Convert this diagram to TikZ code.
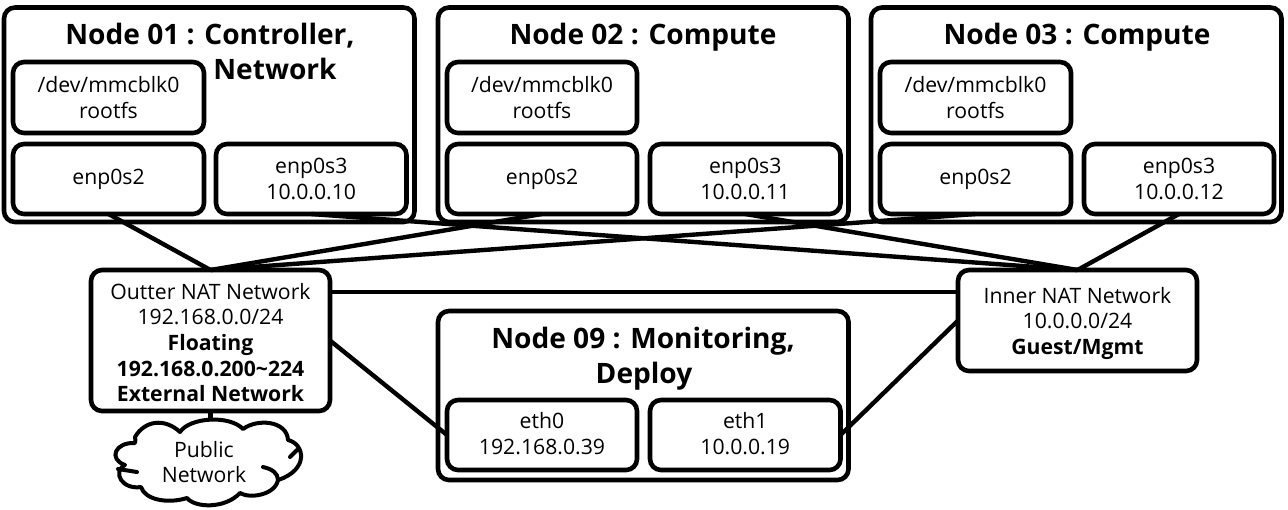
\documentclass[tikz,border=0pt]{standalone}
\usepackage{fontspec}
\setmainfont{Open Sans}
\usetikzlibrary{calc}
\tikzset{
  frame/.style={draw=black,line width=4.6pt,rounded corners=11pt,outer sep=0pt,inner sep=0pt,align=center,
    font=\fontsize{21.2}{25.7}\selectfont},
  title/.style={inner sep=0pt,anchor=base,font=\fontsize{28.1}{32}\selectfont\bfseries},
  link/.style={draw=black,line width=4.4pt},
  cloudline/.style={draw=black,line width=4pt,line cap=round,line join=round}
}
\newcommand{\bx}[6]{\node[frame,minimum width=#4pt-#2pt,minimum height=#5pt-#3pt] (#1) at ({(#2+#4)/2},{(#3+#5)/2}) {#6};}
\begin{document}
\begin{tikzpicture}[x=1pt,y=-1pt]
\useasboundingbox (0,0) rectangle (1288,509);
% Node 01
\bx{nA}{4}{7.5}{414.5}{222}{}
\node[title] (tA) at (210,44) {Node 01 : Controller,};
\node[title] (tAb) at (275,79) {Network};
\bx{rA}{13}{62}{204}{133}{/dev/mmcblk0\\rootfs}
\bx{aA}{13}{144}{204}{214}{enp0s2}
\bx{bA}{216}{144}{406.5}{214}{enp0s3\\10.0.0.10}
% Node 02
\bx{nB}{438}{7.5}{848.5}{222}{}
\node[title] (tB) at (643,44) {Node 02 : Compute};
\bx{rB}{447}{62}{637}{133}{/dev/mmcblk0\\rootfs}
\bx{aB}{447}{144}{637}{214}{enp0s2}
\bx{bB}{650}{144}{840.5}{214}{enp0s3\\10.0.0.11}
% Node 03
\bx{nC}{871}{7.5}{1281.5}{222}{}
\node[title] (tC) at (1077,44) {Node 03 : Compute};
\bx{rC}{880}{62}{1071}{133}{/dev/mmcblk0\\rootfs}
\bx{aC}{880}{144}{1071}{214}{enp0s2}
\bx{bC}{1084}{144}{1274}{214}{enp0s3\\10.0.0.12}
% Node 09
\bx{nD}{438}{311}{848.5}{480}{}
\node[title] (tD) at (643,348) {Node 09 : Monitoring,};
\node[title] (tDb) at (644,383) {Deploy};
\bx{eA}{447}{400}{637}{470}{eth0\\192.168.0.39\rule[-3pt]{0pt}{3pt}}
\bx{eB}{650}{400}{840.5}{470}{eth1\\10.0.0.19\rule[-3pt]{0pt}{3pt}}
% Networks
\bx{out}{91}{270}{330}{411}{\rule{0pt}{20pt}Outter NAT Network\\192.168.0.0/24\\\textbf{Floating}\\\textbf{192.168.0.200\textasciitilde 224}\\\textbf{External Network}}
\bx{inn}{958}{270}{1197}{371}{\rule{0pt}{22pt}Inner NAT Network\\10.0.0.0/24\\\textbf{Guest/Mgmt}}
% Cloud
\node[inner sep=0pt,align=center,minimum width=130pt,minimum height=82pt,font=\fontsize{21.2}{25.7}\selectfont] (pub) at (204,462) {Public\\Network};
\draw[cloudline]
  (135,437) .. controls (145,420) and (165,418) .. (180,432)
  .. controls (190,417) and (230,415) .. (243,429)
  .. controls (258,418) and (287,421) .. (288,440)
  .. controls (305,444) and (309,470) .. (278,480)
  .. controls (275,495) and (250,499) .. (240,493)
  .. controls (225,509) and (195,508) .. (187,498)
  .. controls (168,504) and (145,500) .. (141,487)
  .. controls (122,490) and (112,472) .. (125,465)
  .. controls (108,459) and (115,442) .. (135,443)
  .. controls (136,441) and (135,439) .. (135,437);
\draw[cloudline] (263,467) .. controls (272,469) and (278,473) .. (278,480);
\draw[cloudline] (297,450) -- (290,457);
\draw[cloudline] (118,469) -- (137,472);
% Links
\draw[link] (aA.south) -- (out.north);
\draw[link] (aB.south) -- (out.north);
\draw[link] (aC.south) -- (out.north);
\draw[link] (bA.south) -- (inn.north);
\draw[link] (bB.south) -- (inn.north);
\draw[link] (bC.south) -- (inn.north);
\coordinate (outTap) at ($(out.north east)+(0,22)$);
\coordinate (innTap) at ($(inn.north west)+(0,22)$);
\draw[link] (outTap) -- (innTap);
\draw[link] (out.east) -- (eA.west);
\draw[link] (inn.west) -- (eB.east);
\draw[link] (out.south) -- (out.south |- pub.north);
\end{tikzpicture}
\end{document}
